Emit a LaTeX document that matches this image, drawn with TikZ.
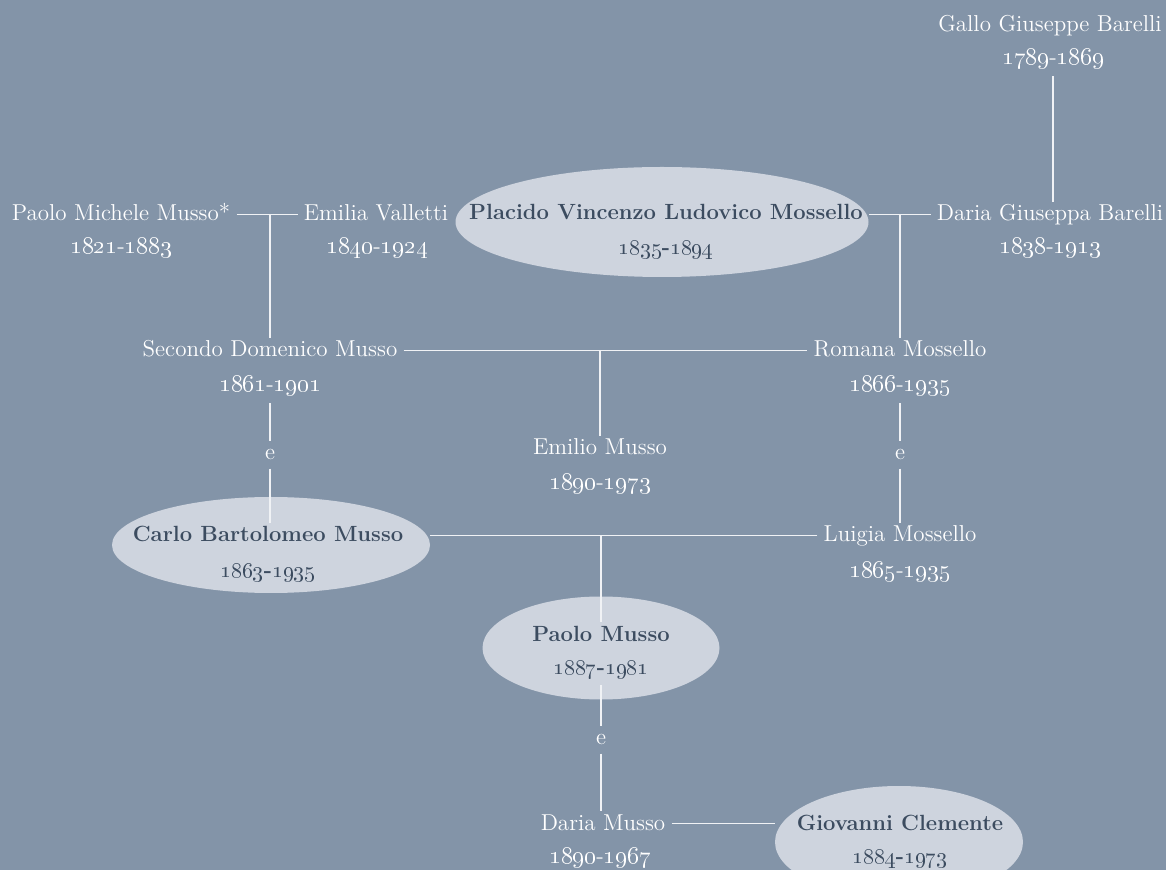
\documentclass[tikz,border=0pt]{standalone}
\usetikzlibrary{shapes.geometric}
\definecolor{bgc}{RGB}{131,148,168}
\definecolor{ovc}{RGB}{206,212,222}
\definecolor{dtc}{RGB}{60,76,96}
\newcommand{\yrs}[2]{\oldstylenums{#1}-\oldstylenums{#2}}
\tikzset{
  nm/.style={text=white, font=\fontsize{11.5}{13}\selectfont, anchor=base,
    inner xsep=3pt, inner ysep=1pt, text height=8.5pt, text depth=2pt},
  bnm/.style={nm, text=dtc, font=\fontsize{11}{13}\selectfont\bfseries},
  dt/.style={text=white, font=\fontsize{11.5}{13}\selectfont, anchor=base,
    inner xsep=3pt, inner ysep=3pt},
  bdt/.style={dt, text=dtc, font=\fontsize{11}{13}\selectfont\bfseries},
  ovalbox/.style={ellipse, fill=ovc, draw=none, inner sep=0pt},
  ee/.style={text=white, font=\fontsize{11.5}{13}\selectfont, anchor=center,
    text height=4.3pt, text depth=0pt, inner xsep=1pt, inner ysep=4.5pt},
  conn/.style={draw=white!88!bgc, line width=0.6pt}
}
\begin{document}
\begin{tikzpicture}[x=0.5pt,y=-0.5pt]
\fill[bgc] (0,0) rectangle (1166,870);
\useasboundingbox (0,0) rectangle (1166,870);

% ovals
\node[ovalbox, minimum width=206.5pt, minimum height=55pt] (pvo) at (662,222) {};
\node[ovalbox, minimum width=159pt, minimum height=48pt] (cbo) at (271,545) {};
\node[ovalbox, minimum width=118.5pt, minimum height=51.5pt] (pmo) at (601,648) {};
\node[ovalbox, minimum width=124pt, minimum height=56pt] (gco) at (899,842) {};

% people
\node[nm] (ggb) at (1050,32) {Gallo Giuseppe Barelli};
\node[dt] (ggbd) at (1053,65) {\yrs{1789}{1869}};

\node[nm] (pmm) at (121,221) {Paolo Michele Musso*};
\node[dt] (pmmd) at (121,254) {\yrs{1821}{1883}};
\node[nm] (ev) at (376,221) {Emilia Valletti};
\node[dt] (evd) at (377,254) {\yrs{1840}{1924}};
\node[bnm] (pv) at (666,220) {Placido Vincenzo Ludovico Mossello};
\node[bdt] (pvd) at (666,255) {\yrs{1835}{1894}};
\node[nm] (dgb) at (1050,221) {Daria Giuseppa Barelli};
\node[dt] (dgbd) at (1050,254) {\yrs{1838}{1913}};

\node[nm] (sdm) at (270,357) {Secondo Domenico Musso};
\node[dt] (sdmd) at (270,392) {\yrs{1861}{1901}};
\node[nm] (rm) at (900,357) {Romana Mossello};
\node[dt] (rmd) at (900,392) {\yrs{1866}{1935}};

\node[nm] (em) at (600,455) {Emilio Musso};
\node[dt] (emd) at (600,490) {\yrs{1890}{1973}};

\node[bnm] (cbm) at (268,542) {Carlo Bartolomeo Musso};
\node[bdt] (cbmd) at (268,578) {\yrs{1863}{1935}};
\node[nm] (lm) at (900,542) {Luigia Mossello};
\node[dt] (lmd) at (900,578) {\yrs{1865}{1935}};

\node[bnm] (pm) at (601,641) {Paolo Musso};
\node[bdt] (pmd) at (601,674) {\yrs{1887}{1981}};

\node[nm] (dm) at (603,830) {Daria Musso};
\node[dt] (dmd) at (600,863) {\yrs{1890}{1967}};
\node[bnm] (gc) at (900,830) {Giovanni Clemente};
\node[bdt] (gcd) at (900,863) {\yrs{1884}{1973}};

% "e" labels
\node[ee] (e1) at (270,455) {e};
\node[ee] (e2) at (900,455) {e};
\node[ee] (e3) at (601,740) {e};

% connectors
\draw[conn] (ggbd.south) -- (ggbd.south |- dgb.north);
\draw[conn] (pmm.east) -- (ev.west);
\draw[conn] (pmm.east -| sdm.north) -- (sdm.north);
\draw[conn] (dgb.west) -- (dgb.west -| pvo.east);
\draw[conn] (dgb.west -| rm.north) -- (rm.north);
\draw[conn] (sdm.east) -- (rm.west);
\draw[conn] (sdm.east -| em.north) -- (em.north);
\draw[conn] (sdmd.south) -- (e1.north);
\draw[conn] (e1.south) -- (e1.south |- cbm.north);
\draw[conn] (rmd.south) -- (e2.north);
\draw[conn] (e2.south) -- (lm.north);
\draw[conn] (lm.west) -- (lm.west -| cbo.east);
\draw[conn] (lm.west -| pm.north) -- (pm.north);
\draw[conn] (pmd.south) -- (e3.north);
\draw[conn] (e3.south) -- (e3.south |- dm.north);
\draw[conn] (dm.east) -- (dm.east -| gco.west);
\end{tikzpicture}
\end{document}
